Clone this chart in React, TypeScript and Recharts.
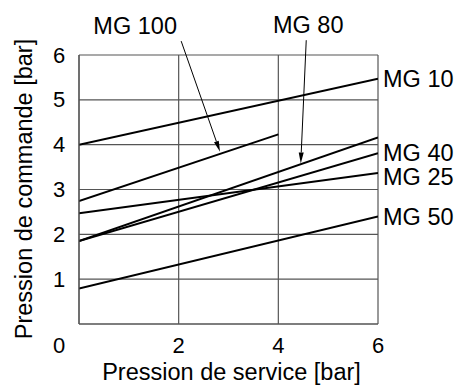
import React from 'react';
import { LineChart, Line, XAxis, YAxis, CartesianGrid, ReferenceLine } from 'recharts';

const xTicks = [0, 2, 4, 6];
const yTicks = [0, 1, 2, 3, 4, 5, 6];

const mg10 = [{ x: 0, y: 4.0 }, { x: 6, y: 5.47 }];
const mg100 = [{ x: 0, y: 2.74 }, { x: 4, y: 4.23 }];
const mg80 = [{ x: 0, y: 1.85 }, { x: 6, y: 4.16 }];
const mg40 = [{ x: 0, y: 1.85 }, { x: 6, y: 3.81 }];
const mg25 = [{ x: 0, y: 2.47 }, { x: 6, y: 3.37 }];
const mg50 = [{ x: 0, y: 0.79 }, { x: 6, y: 2.4 }];

const rightLabels: Record<string, { name: string; dy: number }> = {
  mg10: { name: 'MG 10', dy: 0 },
  mg40: { name: 'MG 40', dy: 0 },
  mg25: { name: 'MG 25', dy: 4 },
  mg50: { name: 'MG 50', dy: 1 },
};

const arrows = [
  { name: 'MG 100', from: { x: 2.05, y: 6.31 }, to: { x: 2.83, y: 3.84 }, dx: -46 },
  { name: 'MG 80', from: { x: 4.56, y: 6.33 }, to: { x: 4.45, y: 3.58 }, dx: 2 },
];

const xTitle = 'Pression de service [bar]';
const yTitle = 'Pression de commande [bar]';

const FONT = '"Liberation Sans", Arial, sans-serif';
const FS = 23.5;
const TFS = 22;

const makeEndLabel = (key: string, lastIndex: number) => (props: any) => {
  const { x, y, index } = props;
  if (index !== lastIndex || !rightLabels[key]) return null;
  const l = rightLabels[key];
  return (
    <text x={x + 5} y={y + l.dy} dominantBaseline="central" fontFamily={FONT} fontSize={FS} fill="#000">
      {l.name}
    </text>
  );
};

const XTick = (props: any) => {
  const { x, payload } = props;
  const dx = payload.value === 0 ? -20 : 0;
  return (
    <text x={x + dx} y={345} textAnchor="middle" dominantBaseline="central" fontFamily={FONT} fontSize={TFS} fill="#000">
      {payload.value}
    </text>
  );
};

const YTick = (props: any) => {
  const { y, payload } = props;
  if (payload.value === 0) return null;
  return (
    <text x={59} y={y} textAnchor="middle" dominantBaseline="central" fontFamily={FONT} fontSize={TFS} fill="#000">
      {payload.value}
    </text>
  );
};

const makeArrowShape = (label: string, dx: number) => (props: any) => {
  const { x1, y1, x2, y2 } = props;
  const ang = Math.atan2(y2 - y1, x2 - x1);
  const L = 11;
  const W = 2.5;
  const bx = x2 - L * Math.cos(ang);
  const by = y2 - L * Math.sin(ang);
  const px = -Math.sin(ang) * W;
  const py = Math.cos(ang) * W;
  return (
    <g>
      <line x1={x1} y1={y1} x2={bx} y2={by} stroke="#000" strokeWidth={1} />
      <polygon points={`${x2},${y2} ${bx + px},${by + py} ${bx - px},${by - py}`} fill="#000" />
      <text x={x1 + dx} y={y1 - 7} textAnchor="middle" fontFamily={FONT} fontSize={FS} fill="#000">
        {label}
      </text>
    </g>
  );
};

const XTitle = (props: any) => {
  const vb = props.viewBox || {};
  const cx = vb.x + vb.width / 2 + 3;
  return (
    <text x={cx} y={380} textAnchor="middle" fontFamily={FONT} fontSize={FS} fill="#000">
      {xTitle}
    </text>
  );
};

const YTitle = () => (
  <text x={24} y={189} textAnchor="middle" dominantBaseline="central" transform="rotate(-90 24 189)" fontFamily={FONT} fontSize={FS} fill="#000">
    {yTitle}
  </text>
);

const series = [
  { key: 'mg10', data: mg10 },
  { key: 'mg100', data: mg100 },
  { key: 'mg80', data: mg80 },
  { key: 'mg40', data: mg40 },
  { key: 'mg25', data: mg25 },
  { key: 'mg50', data: mg50 },
];

export default function App() {
  return (
    <div style={{ position: 'absolute', left: 0, top: 0, background: '#fff' }}>
      <LineChart width={456} height={385} margin={{ top: 55, right: 78, left: 0, bottom: 0 }}>
        <CartesianGrid stroke="#555" strokeWidth={1.2} />
        <XAxis
          type="number"
          dataKey="x"
          domain={[0, 6]}
          ticks={xTicks}
          height={61}
          tickLine={false}
          axisLine={{ stroke: '#555', strokeWidth: 1.2 }}
          tick={<XTick />}
          allowDataOverflow
          label={<XTitle />}
        />
        <YAxis
          type="number"
          dataKey="y"
          domain={[0, 6]}
          ticks={yTicks}
          width={79}
          tickLine={false}
          axisLine={{ stroke: '#555', strokeWidth: 1.2 }}
          tick={<YTick />}
          allowDataOverflow
          label={<YTitle />}
        />
        {series.map((s) => (
          <Line
            key={s.key}
            data={s.data}
            dataKey="y"
            type="linear"
            stroke="#000"
            strokeWidth={2}
            dot={false}
            activeDot={false}
            isAnimationActive={false}
            label={makeEndLabel(s.key, s.data.length - 1)}
          />
        ))}
        {arrows.map((a) => (
          <ReferenceLine
            key={a.name}
            segment={[a.from, a.to]}
            ifOverflow="visible"
            stroke="#000"
            shape={makeArrowShape(a.name, a.dx)}
          />
        ))}
      </LineChart>
    </div>
  );
}
